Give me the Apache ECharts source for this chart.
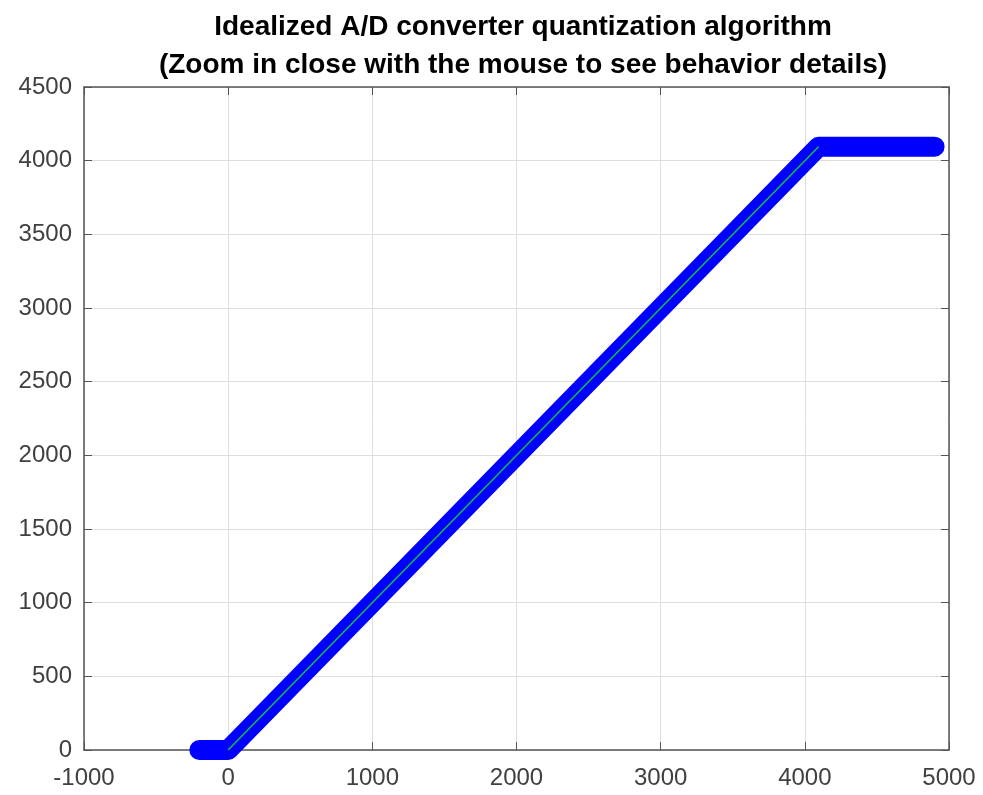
<!DOCTYPE html>
<html>
<head>
<meta charset="utf-8">
<script src="https://cdn.jsdelivr.net/npm/echarts@6/dist/echarts.min.js"></script>
<style>
  html, body { margin: 0; padding: 0; background: #fff; }
  #chart { width: 983px; height: 795px; }
</style>
</head>
<body>
<div id="chart"></div>
<script>
// Quantized converter output (clamped to 0 .. 4095) against analog input
const inputCodes = [-200, 0, 4095, 4900];
const outputCodes = [0, 0, 4095, 4095];
// Ideal transfer line, output = input over the valid range
const idealIn = [0, 4095];
const idealOut = [0, 4095];
// Axis tick values
const xTicks = [-1000, 0, 1000, 2000, 3000, 4000, 5000];
const yTicks = [0, 500, 1000, 1500, 2000, 2500, 3000, 3500, 4000, 4500];

const titleLines = [
  'Idealized A/D converter quantization algorithm',
  '(Zoom in close with the mouse to see behavior details)'
];

const font = '"Liberation Sans", Arial, sans-serif';
const boxColor = '#555555';
const labelColor = '#404040';

function pairs(xs, ys) { return xs.map((x, i) => [x, ys[i]]); }

const chart = echarts.init(document.getElementById('chart'), null, { renderer: 'canvas' });

const xBase = {
  type: 'value', min: xTicks[0], max: xTicks[xTicks.length - 1], interval: 1000,
  axisLine: { show: true, onZero: false, lineStyle: { color: boxColor, width: 1.5 } },
  axisTick: { show: true, inside: true, length: 8, lineStyle: { color: boxColor } }
};
const yBase = {
  type: 'value', min: yTicks[0], max: yTicks[yTicks.length - 1], interval: 500,
  axisLine: { show: true, onZero: false, lineStyle: { color: boxColor, width: 1.5 } },
  axisTick: { show: true, inside: true, length: 8, lineStyle: { color: boxColor } }
};
const plain = v => String(v);

chart.setOption({
  animation: false,
  backgroundColor: '#ffffff',
  title: {
    text: titleLines.join('\n'),
    left: 518, top: 3, textAlign: 'center',
    textStyle: { fontFamily: font, fontSize: 28, fontWeight: 'bold', color: '#000', lineHeight: 38 }
  },
  grid: { left: 84, right: 34, top: 87, bottom: 45, containLabel: false },
  xAxis: [
    Object.assign({}, xBase, {
      position: 'bottom',
      axisLabel: { color: labelColor, fontFamily: font, fontSize: 24, margin: 16, formatter: plain },
      splitLine: { show: true, lineStyle: { color: '#dedede', width: 1 } }
    }),
    Object.assign({}, xBase, {
      position: 'top',
      axisLabel: { show: false },
      splitLine: { show: false }
    })
  ],
  yAxis: [
    Object.assign({}, yBase, {
      position: 'left',
      axisLabel: { color: labelColor, fontFamily: font, fontSize: 24, margin: 12, formatter: plain },
      splitLine: { show: true, lineStyle: { color: '#dedede', width: 1 } }
    }),
    Object.assign({}, yBase, {
      position: 'right',
      axisLabel: { show: false },
      splitLine: { show: false }
    })
  ],
  series: [
    {
      name: 'quantized',
      type: 'line',
      data: pairs(inputCodes, outputCodes),
      showSymbol: false,
      lineStyle: { color: '#0000ff', width: 20, cap: 'round', join: 'round' },
      z: 2
    },
    {
      name: 'ideal',
      type: 'line',
      data: pairs(idealIn, idealOut),
      showSymbol: false,
      lineStyle: { color: '#10c040', width: 1.5 },
      z: 3
    }
  ]
});
</script>
</body>
</html>
